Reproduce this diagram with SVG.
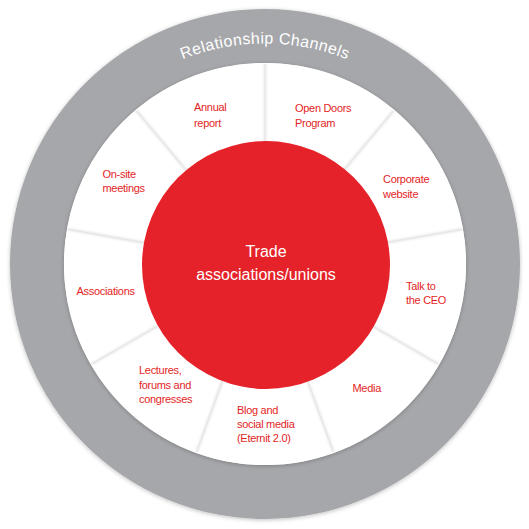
<svg xmlns="http://www.w3.org/2000/svg" width="529" height="529" viewBox="0 0 529 529">
<defs>
<filter id="soft" x="-10%" y="-10%" width="120%" height="120%">
<feGaussianBlur in="SourceAlpha" stdDeviation="2"/>
<feOffset dx="0" dy="1" result="b"/>
<feComponentTransfer><feFuncA type="linear" slope="0.25"/></feComponentTransfer>
<feMerge><feMergeNode/><feMergeNode in="SourceGraphic"/></feMerge>
</filter>
<filter id="lineshadow" x="-20%" y="-20%" width="140%" height="140%">
<feGaussianBlur stdDeviation="1.2"/>
</filter>
<path id="titleArc" d="M 44.5 264 A 220.5 220.5 0 0 1 485.5 264"/>
</defs>
<style>
.seg{fill:#ffffff}
.lbl{font-family:"Liberation Sans",Arial,sans-serif;font-size:11px;letter-spacing:-0.3px;fill:#e31e25}
.div{stroke:#e6e6e6;stroke-width:1.2;fill:none}
.divs{stroke:#000;stroke-opacity:0.08;stroke-width:3;fill:none;filter:url(#lineshadow)}
.title{font-family:"Liberation Sans",Arial,sans-serif;font-size:16px;fill:#ffffff;letter-spacing:0.4px}
.center{font-family:"Liberation Sans",Arial,sans-serif;font-size:16px;fill:#ffffff;text-anchor:middle}
</style>
<circle cx="265" cy="264" r="255" fill="#a6a7aa" filter="url(#soft)"/>
<text class="title"><textPath href="#titleArc" startOffset="50%" text-anchor="middle">Relationship Channels</textPath></text>
<g filter="url(#soft)">
<circle cx="265" cy="264" r="201" fill="#ffffff"/>
</g>
<g id="annual-report">
<path class="seg" d="M265 264 L135.8 110 A201 201 0 0 1 265 63 Z"/>
<text class="lbl" x="194" y="111">Annual</text>
<text class="lbl" x="194" y="126.5">report</text>
</g>
<g id="open-doors">
<path class="seg" d="M265 264 L265 63 A201 201 0 0 1 394.2 110 Z"/>
<text class="lbl" x="295" y="111.5">Open Doors</text>
<text class="lbl" x="295" y="127">Program</text>
</g>
<g id="corporate-website">
<path class="seg" d="M265 264 L394.2 110 A201 201 0 0 1 463 229.1 Z"/>
<text class="lbl" x="383" y="182.5">Corporate</text>
<text class="lbl" x="383" y="197.5">website</text>
</g>
<g id="talk-to-ceo">
<path class="seg" d="M265 264 L463 229.1 A201 201 0 0 1 439.1 364.5 Z"/>
<text class="lbl" x="406" y="289.5">Talk to</text>
<text class="lbl" x="406" y="304">the CEO</text>
</g>
<g id="media">
<path class="seg" d="M265 264 L439.1 364.5 A201 201 0 0 1 333.7 452.9 Z"/>
<text class="lbl" x="352.5" y="391.5">Media</text>
</g>
<g id="blog-social-media">
<path class="seg" d="M265 264 L333.7 452.9 A201 201 0 0 1 196.3 452.9 Z"/>
<text class="lbl" x="237" y="413.5">Blog and</text>
<text class="lbl" x="237" y="427.5">social media</text>
<text class="lbl" x="237" y="441.5">(Eternit 2.0)</text>
</g>
<g id="lectures">
<path class="seg" d="M265 264 L196.3 452.9 A201 201 0 0 1 90.9 364.5 Z"/>
<text class="lbl" x="139" y="374">Lectures,</text>
<text class="lbl" x="139" y="388.5">forums and</text>
<text class="lbl" x="139" y="403">congresses</text>
</g>
<g id="associations">
<path class="seg" d="M265 264 L90.9 364.5 A201 201 0 0 1 67 229.1 Z"/>
<text class="lbl" x="76.5" y="295">Associations</text>
</g>
<g id="on-site-meetings">
<path class="seg" d="M265 264 L67 229.1 A201 201 0 0 1 135.8 110 Z"/>
<text class="lbl" x="102.5" y="177.5">On-site</text>
<text class="lbl" x="102.5" y="192">meetings</text>
</g>
<g id="dividers">
<path class="divs" d="M265 150 L265 64 M338.3 176.7 L393.5 110.8 M377.3 244.2 L462 229.3 M363.7 321 L438.2 364 M304 371.1 L333.4 451.9 M226 371.1 L196.6 451.9 M166.3 321 L91.8 364 M152.7 244.2 L68 229.3 M191.7 176.7 L136.5 110.8"/>
<path class="div" d="M265 150 L265 64 M338.3 176.7 L393.5 110.8 M377.3 244.2 L462 229.3 M363.7 321 L438.2 364 M304 371.1 L333.4 451.9 M226 371.1 L196.6 451.9 M166.3 321 L91.8 364 M152.7 244.2 L68 229.3 M191.7 176.7 L136.5 110.8"/>
</g>
<g id="trade-associations">
<circle cx="266" cy="265" r="124" fill="#e52229"/>
<text class="center" x="266" y="257">Trade</text>
<text class="center" x="266" y="279.5">associations/unions</text>
</g>
</svg>
